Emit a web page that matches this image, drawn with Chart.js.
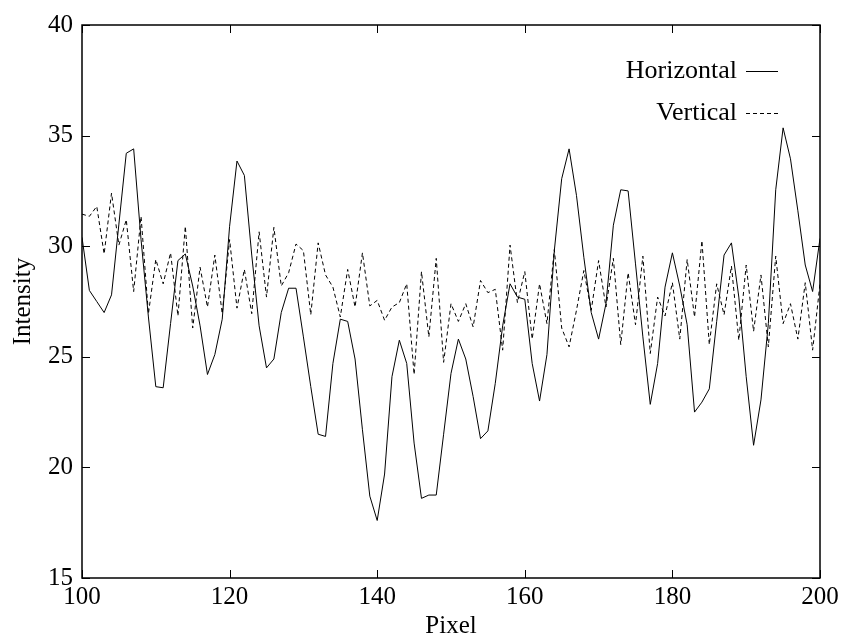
<!DOCTYPE html>
<html>
<head>
<meta charset="utf-8">
<script src="https://cdn.jsdelivr.net/npm/chart.js@4/dist/chart.umd.min.js"></script>
<style>
  html, body { margin: 0; padding: 0; background: #fff; }
  canvas { display: block; }
</style>
</head>
<body>
<canvas id="profileChart" width="843" height="643"></canvas>
<script>
// pixel positions along the profile
const pixels = [
  100, 101, 102, 103, 104, 105, 106, 107, 108, 109,
  110, 111, 112, 113, 114, 115, 116, 117, 118, 119,
  120, 121, 122, 123, 124, 125, 126, 127, 128, 129,
  130, 131, 132, 133, 134, 135, 136, 137, 138, 139,
  140, 141, 142, 143, 144, 145, 146, 147, 148, 149,
  150, 151, 152, 153, 154, 155, 156, 157, 158, 159,
  160, 161, 162, 163, 164, 165, 166, 167, 168, 169,
  170, 171, 172, 173, 174, 175, 176, 177, 178, 179,
  180, 181, 182, 183, 184, 185, 186, 187, 188, 189,
  190, 191, 192, 193, 194, 195, 196, 197, 198, 199,
  200
];

// intensity (solid line)
const horizontal = [
  30.4, 28.0, 27.5, 27.0, 27.8, 31.0, 34.2, 34.4, 30.3, 26.8,
  23.65, 23.6, 26.5, 29.35, 29.65, 28.2, 26.4, 24.2, 25.1, 26.7,
  30.9, 33.85, 33.2, 29.6, 26.4, 24.5, 24.9, 27.0, 28.1, 28.1,
  25.9, 23.65, 21.5, 21.4, 24.7, 26.7, 26.6, 24.9, 21.7, 18.7,
  17.6, 19.7, 24.1, 25.75, 24.7, 21.1, 18.6, 18.75, 18.75, 21.5,
  24.25, 25.8, 24.9, 23.2, 21.3, 21.65, 23.8, 26.4, 28.3, 27.7,
  27.6, 24.7, 23.0, 25.1, 29.8, 33.05, 34.4, 32.3, 29.5, 27.0,
  25.8, 27.4, 30.95, 32.55, 32.5, 29.2, 25.9, 22.85, 24.7, 28.15,
  29.7, 28.2, 26.45, 22.5, 22.95, 23.55, 26.6, 29.6, 30.15, 27.7,
  24.1, 21.0, 23.05, 26.5, 32.55, 35.35, 33.95, 31.6, 29.15, 27.95,
  30.35
];

// intensity (dashed line)
const vertical = [
  31.45, 31.35, 31.8, 29.65, 32.4, 30.05, 31.2, 27.95, 31.35, 26.95,
  29.4, 28.3, 29.7, 26.85, 30.9, 26.3, 29.05, 27.25, 29.6, 26.95,
  30.3, 27.2, 28.95, 26.95, 30.65, 27.7, 30.85, 28.2, 28.8, 30.1,
  29.8, 26.9, 30.15, 28.7, 28.15, 26.8, 28.95, 27.25, 29.7, 27.3,
  27.55, 26.65, 27.25, 27.45, 28.3, 24.2, 28.85, 25.9, 29.45, 24.75,
  27.4, 26.6, 27.4, 26.35, 28.45, 27.9, 28.05, 25.3, 30.05, 27.45,
  28.85, 25.8, 28.3, 26.5, 29.85, 26.3, 25.45, 27.1, 28.9, 27.1,
  29.35, 27.25, 29.45, 25.55, 28.8, 26.45, 29.55, 25.15, 27.7, 26.85,
  28.35, 25.8, 29.4, 26.8, 30.25, 25.55, 28.3, 26.9, 29.1, 25.75,
  29.15, 26.15, 28.7, 25.45, 29.55, 26.5, 27.4, 25.8, 28.35, 25.3,
  28.3
];

const seriesNames = ['Horizontal', 'Vertical'];

const FONT = 'Liberation Serif, Times New Roman, serif';

// frame around the plot with inward ticks on all four sides (gnuplot style)
const framePlugin = {
  id: 'frame',
  afterDraw(chart) {
    const { ctx, chartArea: a, scales } = chart;
    const len = 8;
    ctx.save();
    ctx.strokeStyle = '#000';
    ctx.lineWidth = 1;
    ctx.beginPath();
    scales.x.ticks.forEach(t => {
      const px = Math.round(scales.x.getPixelForValue(t.value)) + 0.5;
      ctx.moveTo(px, a.bottom); ctx.lineTo(px, a.bottom - len);
      ctx.moveTo(px, a.top); ctx.lineTo(px, a.top + len);
    });
    scales.y.ticks.forEach(t => {
      const py = Math.round(scales.y.getPixelForValue(t.value)) + 0.5;
      ctx.moveTo(a.left, py); ctx.lineTo(a.left + len, py);
      ctx.moveTo(a.right, py); ctx.lineTo(a.right - len, py);
    });
    ctx.stroke();
    ctx.lineWidth = 1.5;
    ctx.strokeRect(a.left, a.top, a.right - a.left, a.bottom - a.top);
    ctx.restore();
  }
};

// key in the top right corner: label then a line sample
const keyPlugin = {
  id: 'key',
  afterDraw(chart) {
    const { ctx, chartArea: a } = chart;
    const textRight = a.right - 83;
    const sampleLeft = a.right - 74;
    const sampleRight = a.right - 42;
    ctx.save();
    ctx.font = '26px ' + FONT;
    ctx.fillStyle = '#000';
    ctx.textAlign = 'right';
    ctx.textBaseline = 'middle';
    chart.data.datasets.forEach((ds, i) => {
      const y = a.top + 46 + i * 42;
      ctx.fillText(ds.label, textRight, y);
      ctx.beginPath();
      ctx.setLineDash(ds.borderDash || []);
      ctx.lineWidth = 1;
      ctx.strokeStyle = ds.borderColor;
      ctx.moveTo(sampleLeft, y + 0.5);
      ctx.lineTo(sampleRight, y + 0.5);
      ctx.stroke();
    });
    ctx.restore();
  }
};

new Chart(document.getElementById('profileChart').getContext('2d'), {
  type: 'line',
  data: {
    datasets: [
      {
        label: seriesNames[0],
        data: pixels.map((p, i) => ({ x: p, y: horizontal[i] })),
        borderColor: '#000',
        borderWidth: 1,
        pointRadius: 0,
        tension: 0,
        fill: false,
      },
      {
        label: seriesNames[1],
        data: pixels.map((p, i) => ({ x: p, y: vertical[i] })),
        borderColor: '#000',
        borderWidth: 1,
        borderDash: [4, 3],
        pointRadius: 0,
        tension: 0,
        fill: false,
      },
    ],
  },
  options: {
    responsive: false,
    animation: false,
    events: [],
    layout: { padding: { left: 0, right: 23, top: 25, bottom: 0 } },
    scales: {
      x: {
        type: 'linear',
        min: 100,
        max: 200,
        grid: { display: false, drawTicks: false },
        border: { display: false },
        ticks: { stepSize: 20, padding: 4, color: '#000', font: { family: FONT, size: 25 } },
        title: { display: true, text: 'Pixel', color: '#000', padding: { top: 0, bottom: 2 }, font: { family: FONT, size: 25 } },
        afterFit: scale => { scale.height = 65; },
      },
      y: {
        min: 15,
        max: 40,
        grid: { display: false, drawTicks: false },
        border: { display: false },
        ticks: { stepSize: 5, padding: 9, color: '#000', font: { family: FONT, size: 25 } },
        title: { display: true, text: 'Intensity', color: '#000', padding: { top: 8, bottom: 0 }, font: { family: FONT, size: 25 } },
        afterFit: scale => { scale.width = 82; },
      },
    },
    plugins: {
      legend: { display: false },
      tooltip: { enabled: false },
    },
  },
  plugins: [framePlugin, keyPlugin],
});
</script>
</body>
</html>
